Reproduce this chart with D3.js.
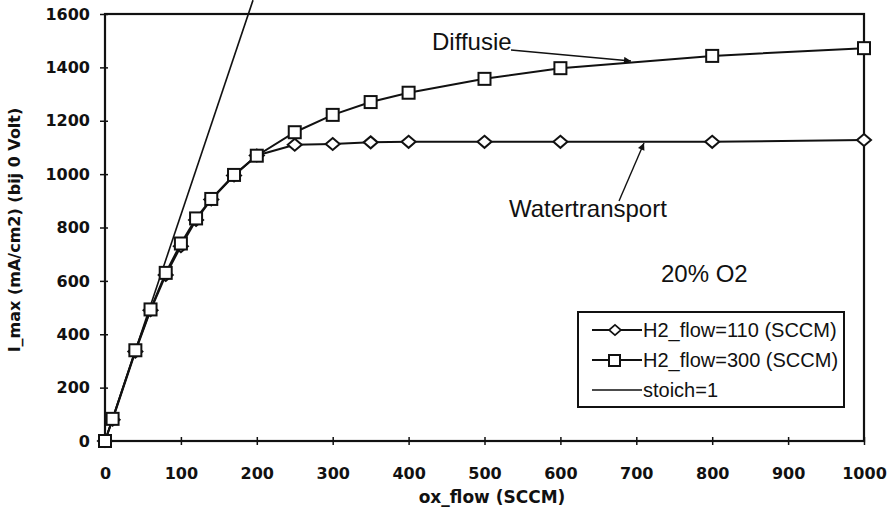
<!DOCTYPE html>
<html>
<head>
<meta charset="utf-8">
<script src="https://cdn.jsdelivr.net/npm/d3@7"></script>
<style>
  body { margin: 0; background: #fff; }
  svg { display: block; }
  .tick text { font-family: "DejaVu Sans", sans-serif; font-weight: bold; font-size: 16px; fill: #111; }
</style>
</head>
<body>
<div id="chart"></div>
<script>
// ox_flow (SCCM) for both H2 flows
const oxFlow = [0, 10, 40, 60, 80, 100, 120, 140, 170, 200, 250, 300, 350, 400, 500, 600, 800, 1000];
// I_max (mA/cm2) at 0 V
const h2Flow110 = [0, 80, 335, 490, 622, 730, 828, 905, 995, 1070, 1110, 1113, 1119, 1121, 1121, 1121, 1121, 1128];
const h2Flow300 = [0, 83, 340, 493, 630, 740, 834, 907, 997, 1069, 1157, 1222, 1270, 1305, 1357, 1397, 1443, 1472];
// stoichiometric limit line
const stoichFlow = [0, 195];
const stoichI = [0, 1652];

const xTicks = [0, 100, 200, 300, 400, 500, 600, 700, 800, 900, 1000];
const yTicks = [0, 200, 400, 600, 800, 1000, 1200, 1400, 1600];

const width = 889, height = 512;
const margin = {top: 14, right: 25, bottom: 71, left: 105};

const svg = d3.select("#chart").append("svg")
    .attr("width", width)
    .attr("height", height);

const x = d3.scaleLinear().domain([0, 1000]).range([margin.left, width - margin.right]);
const y = d3.scaleLinear().domain([0, 1600]).range([height - margin.bottom, margin.top]);

const ink = "#111";

// frame
svg.append("rect")
    .attr("x", x(0)).attr("y", y(1600))
    .attr("width", x(1000) - x(0)).attr("height", y(0) - y(1600))
    .attr("fill", "none").attr("stroke", ink).attr("stroke-width", 2.2);

// axes, ticks cross the axis line
const xAxis = svg.append("g")
    .attr("transform", `translate(0,${y(0)})`)
    .call(d3.axisBottom(x).tickValues(xTicks).tickSize(4).tickPadding(23).tickFormat(d3.format("d")));
xAxis.select(".domain").remove();
xAxis.selectAll(".tick line").attr("y1", -4).attr("stroke", ink).attr("stroke-width", 1.5);

const yAxis = svg.append("g")
    .attr("transform", `translate(${x(0)},0)`)
    .call(d3.axisLeft(y).tickValues(yTicks).tickSize(5).tickPadding(10).tickFormat(d3.format("d")));
yAxis.select(".domain").remove();
yAxis.selectAll(".tick line").attr("x1", 3).attr("x2", -5).attr("stroke", ink).attr("stroke-width", 1.5);

// axis titles
svg.append("text")
    .attr("x", 492).attr("y", 503)
    .attr("text-anchor", "middle")
    .style("font-family", "DejaVu Sans, sans-serif").style("font-weight", "bold").style("font-size", "17px")
    .attr("fill", ink)
    .text("ox_flow (SCCM)");

svg.append("text")
    .attr("transform", "translate(20,230) rotate(-90)")
    .attr("text-anchor", "middle")
    .style("font-family", "DejaVu Sans, sans-serif").style("font-weight", "bold").style("font-size", "16px")
    .attr("fill", ink)
    .text("I_max (mA/cm2) (bij 0 Volt)");

// stoich=1 line
const stoich = stoichFlow.map((f, i) => [f, stoichI[i]]);
svg.append("path")
    .datum(stoich)
    .attr("fill", "none").attr("stroke", ink).attr("stroke-width", 1.6)
    .attr("d", d3.line().x(d => x(d[0])).y(d => y(d[1])));

const line = d3.line().x(d => x(d[0])).y(d => y(d[1]));
const s110 = oxFlow.map((f, i) => [f, h2Flow110[i]]);
const s300 = oxFlow.map((f, i) => [f, h2Flow300[i]]);

const diamond = "M0,-6L7,0L0,6L-7,0Z";

function drawSeries(data, marker) {
  svg.append("path")
      .datum(data)
      .attr("fill", "none").attr("stroke", ink).attr("stroke-width", 2)
      .attr("d", line);
  const g = svg.append("g");
  if (marker === "diamond") {
    g.selectAll("path").data(data).join("path")
        .attr("transform", d => `translate(${x(d[0])},${y(d[1])})`)
        .attr("d", diamond)
        .attr("fill", "#fff").attr("stroke", ink).attr("stroke-width", 2);
  } else {
    g.selectAll("rect").data(data).join("rect")
        .attr("x", d => x(d[0]) - 6).attr("y", d => y(d[1]) - 6)
        .attr("width", 12).attr("height", 12)
        .attr("fill", "#fff").attr("stroke", ink).attr("stroke-width", 2);
  }
}

drawSeries(s110, "diamond");
drawSeries(s300, "square");

// annotations
svg.append("defs").append("marker")
    .attr("id", "head")
    .attr("viewBox", "0 0 10 10")
    .attr("refX", 10).attr("refY", 5)
    .attr("markerWidth", 10).attr("markerHeight", 7)
    .attr("markerUnits", "userSpaceOnUse")
    .attr("orient", "auto")
  .append("path")
    .attr("d", "M0,0L10,5L0,10Z")
    .attr("fill", ink);

const label = (tx, ty, str) => svg.append("text")
    .attr("x", tx).attr("y", ty)
    .style("font-family", "Liberation Sans, Arial, sans-serif").style("font-size", "24px")
    .attr("fill", ink)
    .text(str);

label(432, 50, "Diffusie");
svg.append("line")
    .attr("x1", 511).attr("y1", 50).attr("x2", 631).attr("y2", 61)
    .attr("stroke", ink).attr("stroke-width", 1.4)
    .attr("marker-end", "url(#head)");

label(509, 217, "Watertransport");
svg.append("line")
    .attr("x1", 619).attr("y1", 201).attr("x2", 644).attr("y2", 143)
    .attr("stroke", ink).attr("stroke-width", 1.4)
    .attr("marker-end", "url(#head)");

label(661, 282, "20% O2");

// legend
const legend = svg.append("g");
legend.append("rect")
    .attr("x", 578).attr("y", 312).attr("width", 266).attr("height", 95)
    .attr("fill", "#fff").attr("stroke", ink).attr("stroke-width", 2);

const legendItems = [
  {name: "H2_flow=110 (SCCM)", marker: "diamond"},
  {name: "H2_flow=300 (SCCM)", marker: "square"},
  {name: "stoich=1", marker: null}
];

legendItems.forEach((item, i) => {
  const ly = 330 + i * 30;
  legend.append("line")
      .attr("x1", 592).attr("x2", 642).attr("y1", ly).attr("y2", ly)
      .attr("stroke", ink).attr("stroke-width", item.marker ? 2 : 1.6);
  if (item.marker === "diamond") {
    legend.append("path")
        .attr("transform", `translate(615,${ly}) scale(0.85)`)
        .attr("d", diamond)
        .attr("fill", "#fff").attr("stroke", ink).attr("stroke-width", 2);
  } else if (item.marker === "square") {
    legend.append("rect")
        .attr("x", 609).attr("y", ly - 5).attr("width", 11).attr("height", 11)
        .attr("fill", "#fff").attr("stroke", ink).attr("stroke-width", 2);
  }
  legend.append("text")
      .attr("x", 643).attr("y", ly + 7)
      .style("font-family", "Liberation Sans, Arial, sans-serif").style("font-size", "20px")
      .attr("fill", ink)
      .text(item.name);
});
</script>
</body>
</html>
